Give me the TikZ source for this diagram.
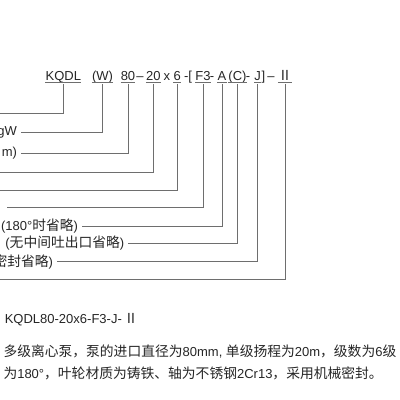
\documentclass[tikz,border=0pt]{standalone}
\usepackage{fontspec}
\setmainfont{Liberation Sans}
\newfontfamily\cjk{Noto Sans CJK SC}[Scale=1.06]
\newcommand\zh[1]{{\cjk #1}}
\definecolor{linegray}{HTML}{6E6E6E}
\definecolor{txtgray}{HTML}{262626}

\begin{document}
\begin{tikzpicture}[x=1pt, y=-1pt,
    code/.style={inner sep=0pt, text height=9pt, text depth=2.3pt, anchor=base,
      font=\fontsize{13}{15}\selectfont, text=txtgray},
    lead/.style={linegray, line width=0.9pt},
    lbl/.style={anchor=east, inner xsep=3.5pt, inner ysep=0pt,
      font=\fontsize{13}{15}\selectfont, text=txtgray},
    note/.style={anchor=west, inner sep=0pt, font=\fontsize{13}{15}\selectfont,
      text=txtgray}]

      % Fix the page and cut what runs over its edges.
      \fill[white] (0,0) rectangle (400,400);
      \useasboundingbox (0,0) rectangle (400,400);
      \clip (0,0) rectangle (400,400);

      % Draw the model code.
      \node[code] (kqdl) at (63.3,80) {KQDL};
      \node[code] (w) at (102.5,80) {(W)};
      \node[code] (eighty) at (128,80) {80};
      \node[code] (dasha) at (140,80) {–};
      \node[code] (twenty) at (153.3,80) {20};
      \node[code] (times) at (167,80) {x};
      \node[code] (six) at (177.3,80) {6};
      \node[code] (brk) at (188,80) {-[};
      \node[code] (fthree) at (203,80) {F3};
      \node[code] (dashb) at (212,80) {-};
      \node[code] (a) at (222,80) {A};
      \node[code] (c) at (237.5,80) {(C)};
      \node[code] (dashc) at (248,80) {-};
      \node[code] (j) at (257.7,80) {J};
      \node[code] (close) at (263.5,80) {]};
      \node[code] (dashd) at (271,80) {–};
      \node[code] (two) at (285,80) {\zh{Ⅱ}};

      % Underline the parts that are explained.
      \foreach \n in {kqdl, w, eighty, twenty, six, fthree, a, c, j, two}
        \draw[lead] (\n.south west) -- (\n.south east);

      % Draw the explanations on the left.
      \node[lbl] (power) at (20.7,132.3) {gW};
      \node[lbl] (flow) at (20.7,153.3) {m)};
      \node[lbl] (angle) at (81.7,226) {(180°\zh{时省略})};
      \node[lbl] (outlet) at (128,243.3) {(\zh{无中间吐出口省略})};
      \node[lbl] (seal) at (56.7,261.7) {\zh{密封省略})};
      \coordinate (typeend) at (0,113.3);
      \coordinate (headend) at (0,172.7);
      \coordinate (stageend) at (0,190.7);
      \coordinate (matend) at (6.7,207.7);
      \coordinate (verend) at (0,279);

      % Draw the leader lines.
      \draw[lead] ([yshift=-1.5pt]kqdl.south) |- (typeend);
      \draw[lead] ([yshift=-1.5pt]w.south) |- (power.east);
      \draw[lead] ([yshift=-1.5pt]eighty.south) |- (flow.east);
      \draw[lead] ([yshift=-1.5pt]twenty.south) |- (headend);
      \draw[lead] ([yshift=-1.5pt]six.south) |- (stageend);
      \draw[lead] ([yshift=-1.5pt]fthree.south) |- (matend);
      \draw[lead] ([yshift=-1.5pt]a.south) |- (angle.east);
      \draw[lead] ([yshift=-1.5pt]c.south) |- (outlet.east);
      \draw[lead] ([yshift=-1.5pt]j.south) |- (seal.east);
      \draw[lead] ([yshift=-1.5pt]two.south) |- (verend);

      % Draw the example below.
      \node[note, anchor=east] (example) at (138,320)
        {KQDL80-20x6-F3-J-\,\zh{Ⅱ}};
      \node[note] (lineone) at (3.3,351.7)
        {\zh{多级离心泵，泵的进口直径为}80mm, \zh{单级扬程为}20m\zh{，级数为}6\zh{级}};
      \node[note] (linetwo) at (3.3,373.3)
        {\zh{为}180°\zh{，叶轮材质为铸铁、轴为不锈钢}2Cr13\zh{，采用机械密封。}};
    \end{tikzpicture}
\end{document}
